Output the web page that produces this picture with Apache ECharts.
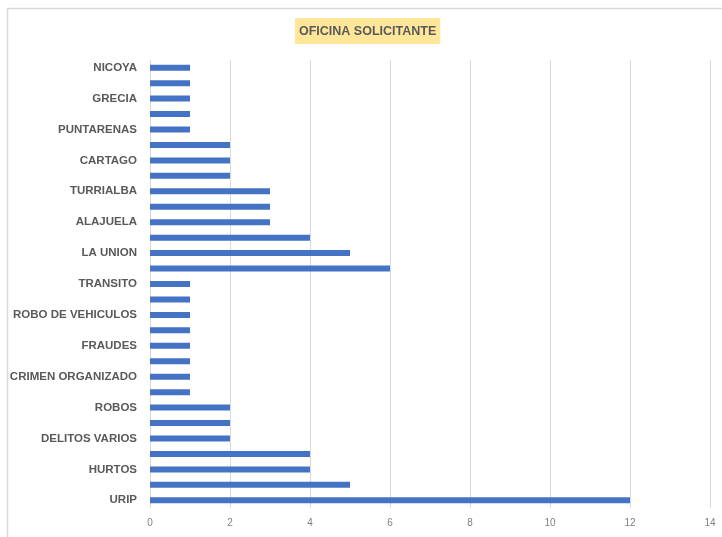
<!DOCTYPE html>
<html>
<head>
<meta charset="utf-8">
<script src="https://cdn.jsdelivr.net/npm/echarts@6/dist/echarts.min.js"></script>
<style>html,body{margin:0;padding:0;background:#fff;}#c{width:722px;height:537px;}</style>
</head>
<body>
<div id="c"></div>
<script>
// categories bottom to top ('' = unlabelled row in the reference)
var categories = ['URIP','','HURTOS','','DELITOS VARIOS','','ROBOS','','CRIMEN ORGANIZADO','','FRAUDES','','ROBO DE VEHICULOS','','TRANSITO','','LA UNION','','ALAJUELA','','TURRIALBA','','CARTAGO','','PUNTARENAS','','GRECIA','','NICOYA'];
var values = [12,5,4,4,2,2,2,1,1,1,1,1,1,1,1,6,5,4,3,3,3,2,2,2,1,1,1,1,1];
var xTicks = [0,2,4,6,8,10,12,14];
var titleText = 'OFICINA SOLICITANTE';

var FONT = "'Liberation Sans Narrow','Arial Narrow','Liberation Sans',sans-serif";
var chart = echarts.init(document.getElementById('c'));
chart.setOption({
  animation: false,
  title: {
    text: titleText, left: 295, top: 18,
    backgroundColor: '#ffe699', padding: [7, 4, 6, 4],
    textStyle: { fontFamily: FONT, fontSize: 12.5, fontWeight: 'bold', color: '#595959' }
  },
  graphic: [
    { type: 'line', shape: { x1: 7.5, y1: 8.5, x2: 722, y2: 8.5 }, style: { stroke: '#d9d9d9', lineWidth: 1.5 } },
    { type: 'line', shape: { x1: 7.5, y1: 8.5, x2: 7.5, y2: 537 }, style: { stroke: '#d9d9d9', lineWidth: 1.5 } }
  ],
  grid: { left: 150, right: 12, top: 60, bottom: 29, containLabel: false, outerBoundsMode: 'none' },
  xAxis: {
    type: 'value', min: xTicks[0], max: xTicks[xTicks.length - 1], interval: 2,
    axisLine: { show: false }, axisTick: { show: false },
    splitLine: { show: true, lineStyle: { color: '#d9d9d9', width: 1 } },
    axisLabel: { margin: 10, fontFamily: FONT, fontSize: 10, color: '#7f7f7f' }
  },
  yAxis: {
    type: 'category', data: categories,
    axisLine: { show: true, lineStyle: { color: '#d9d9d9' } },
    axisTick: { show: false },
    axisLabel: { interval: 0, margin: 13, fontFamily: FONT, fontSize: 11.5, fontWeight: 'bold', color: '#595959' }
  },
  series: [{
    type: 'bar', data: values, barWidth: 6,
    itemStyle: { color: '#4472c4' }
  }]
});
</script>
</body>
</html>
